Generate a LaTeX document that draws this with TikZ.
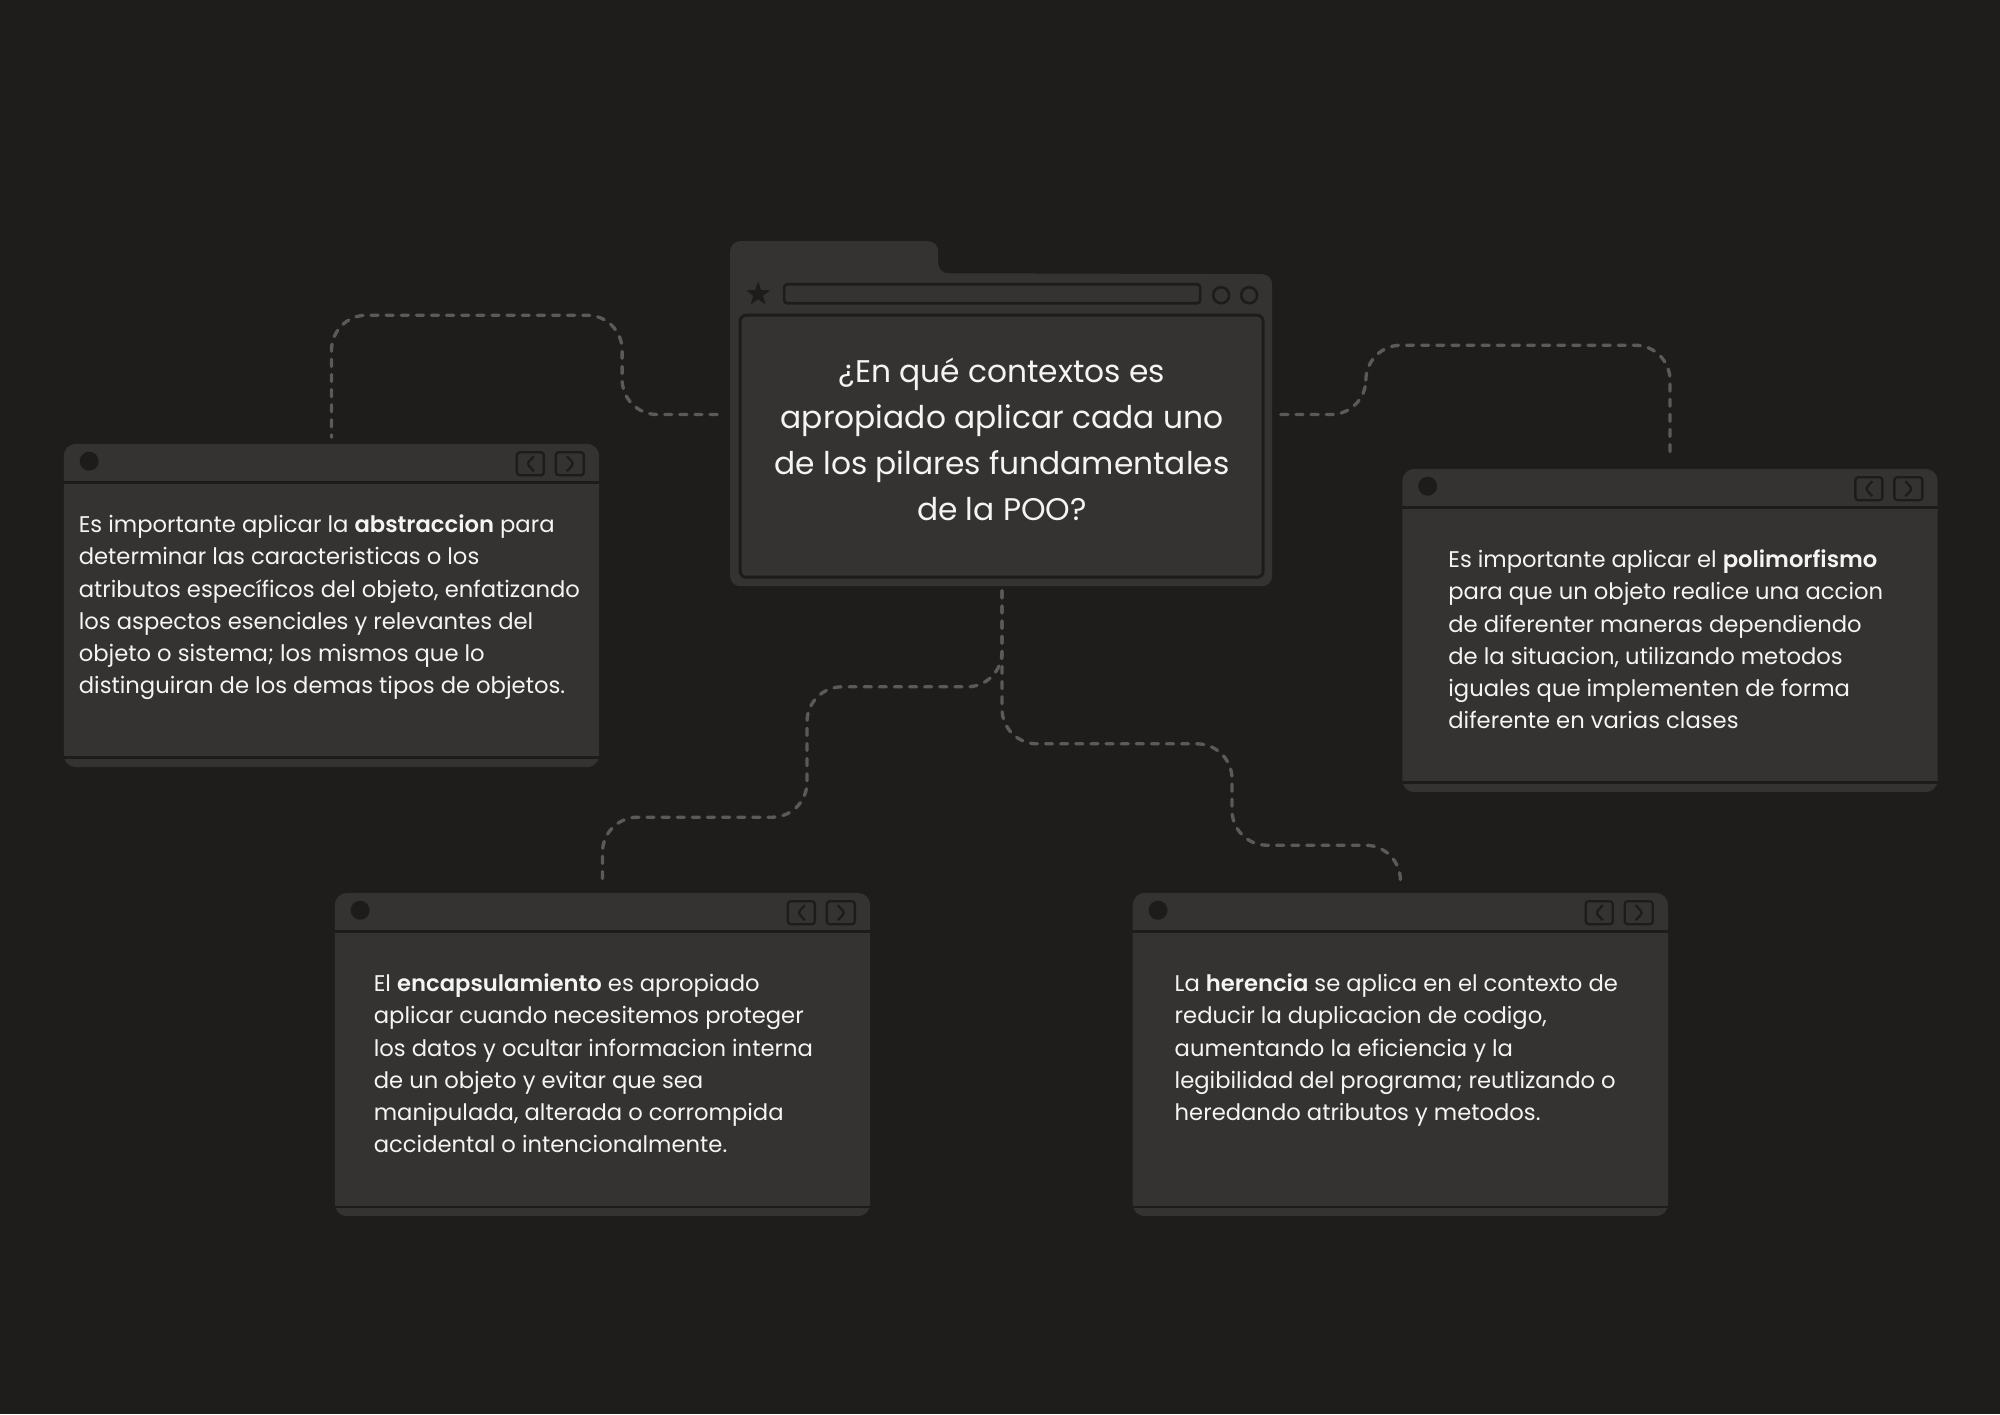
\documentclass[tikz,border=0pt]{standalone}
\usepackage{fontspec}
\setmainfont{Poppins}[BoldFont={Poppins SemiBold}]
\usetikzlibrary{positioning,calc,shapes.geometric}
\definecolor{canvas}{HTML}{1E1D1B}
\definecolor{panel}{HTML}{343331}
\definecolor{edge}{HTML}{1D1C1B}
\definecolor{wire}{HTML}{5B5A58}
\definecolor{paper}{HTML}{F4F4F2}
\tikzset{
  winbox/.style={rectangle,rounded corners=1.2mm,fill=panel,inner sep=0pt,
    minimum width=5.35cm,minimum height=3.23cm},
  qframe/.style={rectangle,inner sep=0pt,minimum width=5.42cm,minimum height=3.45cm},
  wintxt/.style={anchor=north west,inner sep=0pt,align=left,text=paper,
    font=\fontsize{6.45}{9.15}\selectfont},
  qtxt/.style={inner sep=0pt,align=center,text=paper,
    font=\fontsize{8.9}{13.1}\selectfont},
  bar/.style={draw=edge,line width=0.75pt},
  btn/.style={draw=edge,line width=0.65pt,rounded corners=0.3mm},
  link/.style={draw=wire,line width=0.95pt,dash pattern=on 2pt off 2.3pt,
    line cap=round,rounded corners=0.35cm},
}

\begin{document}
\begin{tikzpicture}[x=0.01cm,y=-0.01cm]
  \fill[canvas] (0,0) rectangle (2000,1414);
  \useasboundingbox (0,0) rectangle (2000,1414);

  % question window
  \node[qframe] (q) at (1002,414.5) {};
  \begin{scope}[shift={(q.north west)}]
    \fill[panel,rounded corners=1mm] (0,345) -- (0,0) -- (208,0) -- (208,32)
      -- (542,33) -- (542,345) -- cycle;
    \node[star,star points=5,star point ratio=2.4,fill=edge,inner sep=0pt,
      minimum size=0.25cm] (fav) at (28,53) {};
    \draw[bar,rounded corners=0.3mm] (54,43) rectangle (470,62);
    \draw[bar] (491,54) circle[radius=0.8mm] (519,54) circle[radius=0.8mm];
    \draw[bar,line width=0.85pt,rounded corners=0.6mm] (10,74) rectangle (533,336);
  \end{scope}
  \node[qtxt] (qt) at ($(q.center)+(0,25)$) {¿En qué contextos es\\apropiado aplicar cada uno\\de los pilares fundamentales\\de la POO?};

  % pillar windows
  \node[winbox] (abs) at (331.5,605.5) {};
  \node[winbox] (poly) at (1670,630.5) {};
  \node[winbox] (enc) at (602.5,1054.5) {};
  \node[winbox,right=2.61cm of enc] (her) {};
  \foreach \w in {abs,poly,enc,her} {
    \draw[bar] ($(\w.north west)+(0,39)$) -- ($(\w.north east)+(0,39)$);
    \draw[bar] ($(\w.south west)+(0,-10)$) -- ($(\w.south east)+(0,-10)$);
    \fill[edge] ($(\w.north west)+(26,18)$) circle[radius=0.95mm];
    \draw[btn] ($(\w.north east)+(-83,9)$) rectangle ++(27,23);
    \draw[btn] ($(\w.north east)+(-44,9)$) rectangle ++(28,23);
    \draw[btn] ($(\w.north east)+(-66,13)$) -- ++(-7,7.5) -- ++(7,7.5);
    \draw[btn] ($(\w.north east)+(-33,13)$) -- ++(7,7.5) -- ++(-7,7.5);
  }

  \node[wintxt] (abstxt) at ($(abs.north west)+(15,71)$) {Es importante aplicar la \textbf{abstraccion} para\\determinar las caracteristicas o los\\atributos específicos del objeto, enfatizando\\los aspectos esenciales y relevantes del\\objeto o sistema; los mismos que lo\\distinguiran de los demas tipos de objetos.};
  \node[wintxt] (polytxt) at ($(poly.north west)+(46,81)$) {Es importante aplicar el \textbf{polimorfismo}\\para que un objeto realice una accion\\de diferenter maneras dependiendo\\de la situacion, utilizando metodos\\iguales que implementen de forma\\diferente en varias clases};
  \node[wintxt] (enctxt) at ($(enc.north west)+(39,81)$) {El \textbf{encapsulamiento} es apropiado\\aplicar cuando necesitemos proteger\\los datos y ocultar informacion interna\\de un objeto y evitar que sea\\manipulada, alterada o corrompida\\accidental o intencionalmente.};
  \node[wintxt] (hertxt) at ($(her.north west)+(42,81)$) {La \textbf{herencia} se aplica en el contexto de\\reducir la duplicacion de codigo,\\aumentando la eficiencia y la\\legibilidad del programa; reutlizando o\\heredando atributos y metodos.};

  % dashed links
  \draw[link,shorten <=1.3mm,shorten >=0.6mm] (q.west) -- ++(-108,0)
    |- ($(abs.north)+(0,-128)$) -- (abs.north);
  \draw[link,shorten <=0.7mm,shorten >=1.1mm] (q.east) -- ++(92,0)
    |- ($(poly.north)+(0,-123)$) -- (poly.north);
  \draw[link,shorten <=0.3mm,shorten >=0.6mm] (q.south) |- ++(-195,99)
    |- ($(enc.north)+(0,-75)$) -- (enc.north);
  \draw[link,shorten <=0.3mm,shorten >=0.8mm] (q.south) |- ++(230,156)
    |- ($(her.north)+(0,-47)$) [rounded corners=0.2cm] -- (her.north);
\end{tikzpicture}
\end{document}
